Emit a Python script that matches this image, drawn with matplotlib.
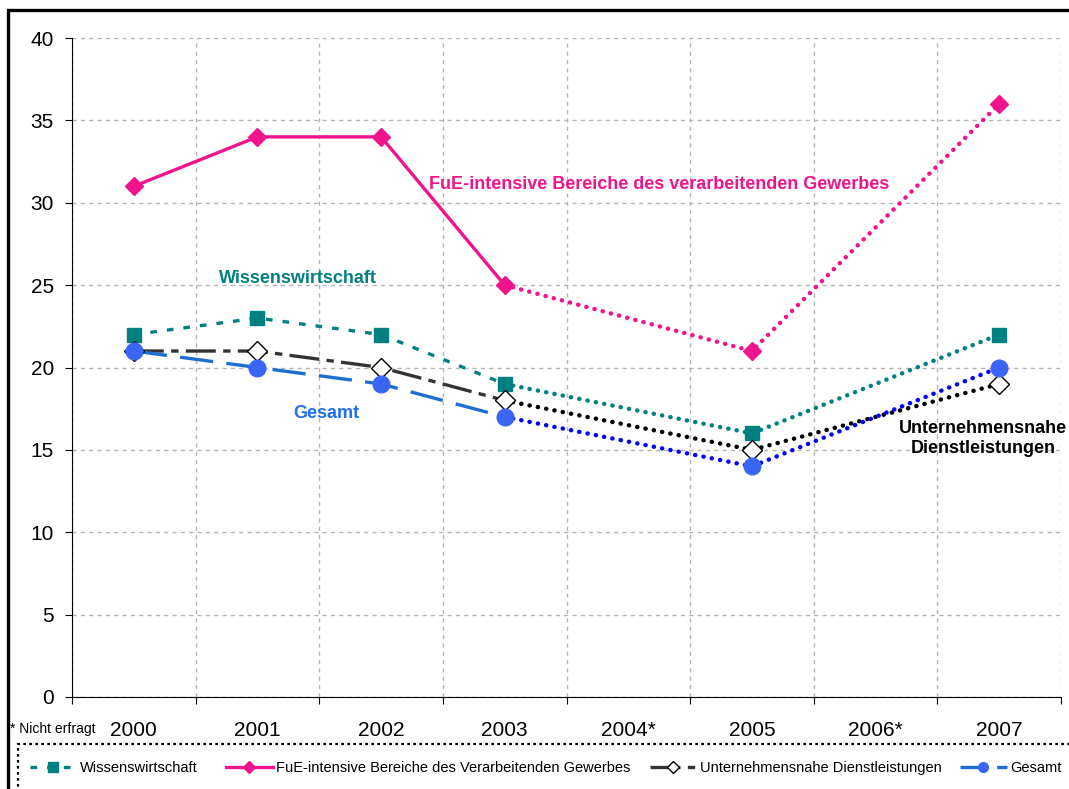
import matplotlib
matplotlib.use("Agg")
import matplotlib.pyplot as plt
from matplotlib.lines import Line2D
from matplotlib.patches import Rectangle
import numpy as np

plt.rcParams['font.family'] = ['Liberation Sans', 'DejaVu Sans']

# data
years = ['2000', '2001', '2002', '2003', '2004*', '2005', '2006*', '2007']
wissen = [22, 23, 22, 19, np.nan, 16, np.nan, 22]
fue = [31, 34, 34, 25, np.nan, 21, np.nan, 36]
unternehmen = [21, 21, 20, 18, np.nan, 15, np.nan, 19]
gesamt = [21, 20, 19, 17, np.nan, 14, np.nan, 20]

legend_labels = ['Wissenswirtschaft', 'FuE-intensive Bereiche des Verarbeitenden Gewerbes',
                 'Unternehmensnahe Dienstleistungen', 'Gesamt']

fig = plt.figure(figsize=(10.69, 7.89), dpi=100)
ax = fig.add_axes([72 / 1069, 1 - 697 / 789, (1061 - 72) / 1069, (697 - 38) / 789])

x = np.arange(len(years))


def draw(vals, c1, ls1, c2, marker, mfc, mec, ms):
    v = np.array(vals, dtype=float)
    # erfragte Jahre 2000-2003
    ax.plot(x[:4], v[:4], color=c1, lw=2.4, dashes=ls1, zorder=3)
    # ab 2003 gepunktet, fehlende Jahre ueberspringen
    ok = ~np.isnan(v)
    ok[:3] = False
    ax.plot(x[ok], v[ok], color=c2, lw=3.2, dashes=(0.05, 1.85),
            dash_capstyle='round', zorder=3)
    ax.plot(x, v, ls='none', marker=marker, ms=ms, mfc=mfc, mec=mec, mew=1, zorder=4)


draw(wissen, '#008080', (2.0, 3.0), '#008080', 's', '#008080', '#008080', 10.5)
draw(fue, '#F0148C', (), '#F0148C', 'D', '#F0148C', '#F0148C', 9.5)
draw(unternehmen, '#333333', (9, 2.2, 2.2, 2.2), '#000000', 'D', 'white', '#000000', 10)
draw(gesamt, '#1E6ED2', (10, 4), '#0000FF', 'o', '#3B66F5', '#3B66F5', 12)

ax.set_xlim(-0.5, 7.5)
ax.set_ylim(0, 40)
ax.set_yticks(np.arange(0, 41, 5))
ax.set_xticks(np.arange(-0.5, 8, 1))
ax.set_xticklabels([])
ax.set_xticks(x, minor=True)
ax.set_xticklabels(years, minor=True)
ax.tick_params(axis='x', which='minor', length=0, pad=17, labelsize=15)
ax.tick_params(axis='x', which='major', length=5, direction='out')
ax.tick_params(axis='y', length=5, direction='out', pad=8, labelsize=15)
ax.grid(True, which='major', color='#B4B4B4', ls=(0, (3, 3)), lw=1)
ax.spines['top'].set_visible(False)
ax.spines['right'].set_visible(False)
ax.set_axisbelow(True)

# Beschriftungen im Diagramm
ax.text(4.25, 31.1, 'FuE-intensive Bereiche des verarbeitenden Gewerbes', color='#F0148C',
        fontsize=13, fontweight='bold', ha='center', va='center')
ax.text(1.33, 25.4, 'Wissenswirtschaft', color='#008080', fontsize=13,
        fontweight='bold', ha='center', va='center')
ax.text(1.56, 17.2, 'Gesamt', color='#1E6EF0', fontsize=13,
        fontweight='bold', ha='center', va='center')
ax.text(6.87, 15.7, 'Unternehmensnahe\nDienstleistungen', color='black', fontsize=13,
        fontweight='bold', ha='center', va='center', linespacing=1.25)

fig.text(10 / 1069, 1 - 729 / 789, '* Nicht erfragt', fontsize=10, va='center', ha='left')

# Rahmen
fig.patches.append(Rectangle((7.5 / 1069, -0.05), 1.1, 1 - 10 / 789 + 0.05,
                             transform=fig.transFigure, fill=False, ec='black', lw=2.4,
                             clip_on=False))
fig.patches.append(Rectangle((18 / 1069, -0.05), 1.1, 1 - 744 / 789 + 0.05,
                             transform=fig.transFigure, fill=False, ec='black', lw=1.6,
                             ls=(0, (1.2, 1.5)), clip_on=False))

# Legende
handles = [
    Line2D([], [], color='#008080', lw=2.4, dashes=(2.0, 3.0), marker='s', ms=7,
           mfc='#008080', mec='#008080'),
    Line2D([], [], color='#F0148C', lw=2.4, marker='D', ms=6, mfc='#F0148C', mec='#F0148C'),
    Line2D([], [], color='#333333', lw=2.4, dashes=(9, 2.2, 2.2, 2.2), marker='D', ms=6,
           mfc='white', mec='black'),
    Line2D([], [], color='#1E6ED2', lw=2.4, dashes=(8, 3), marker='o', ms=7,
           mfc='#3B66F5', mec='#3B66F5'),
]
leg_x = [30, 226, 650, 960]
for h, lab, lx in zip(handles, legend_labels, leg_x):
    fig.legend([h], [lab], loc='center left', bbox_to_anchor=(lx / 1069, 1 - 768 / 789),
               frameon=False, fontsize=10.5, handlelength=3.2,
               handletextpad=0.25, borderpad=0, borderaxespad=0)

fig.savefig('out.png', dpi=100)
